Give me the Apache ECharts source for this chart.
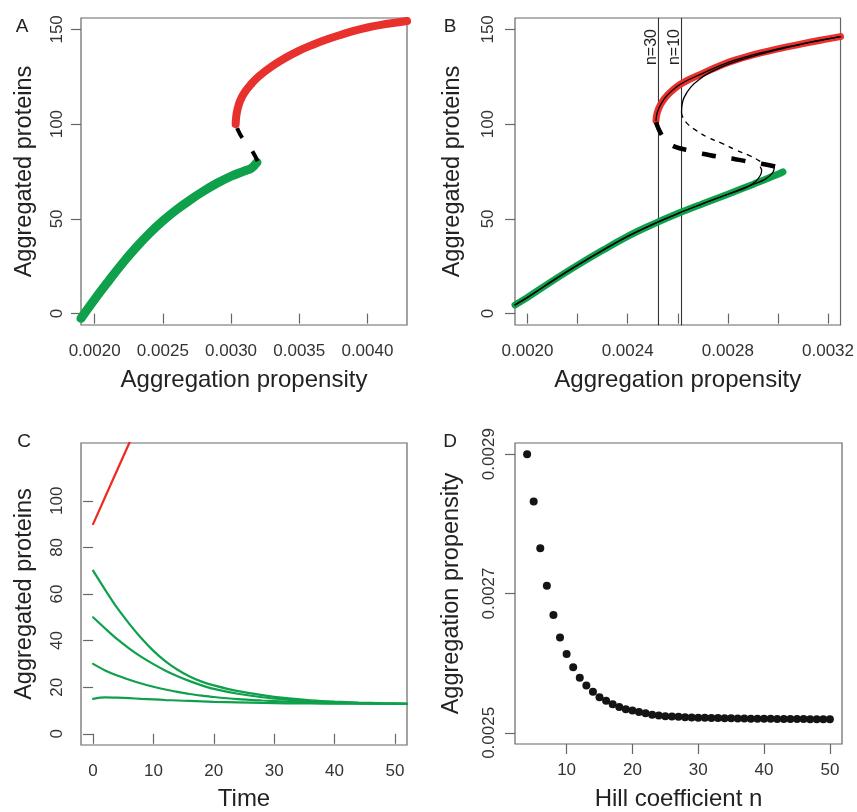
<!DOCTYPE html>
<html>
<head>
<meta charset="utf-8">
<script src="https://cdn.jsdelivr.net/npm/echarts@6/dist/echarts.min.js"></script>
<style>
  html, body { margin: 0; padding: 0; background: #fff; }
  #chart { width: 857px; height: 812px; }
</style>
</head>
<body>
<div id="chart"></div>
<script>
// ---- panel A: bifurcation diagram ----
const aGreenX = [0.0019, 0.0020, 0.0021, 0.0022, 0.0023, 0.0024, 0.0025, 0.0026, 0.0027, 0.0028, 0.0029, 0.0030, 0.0031, 0.00315, 0.00319];
const aGreenY = [-2.5, 7.5, 17, 26.2, 34.6, 42.2, 48.9, 54.8, 60, 64.7, 68.9, 72.5, 75.3, 76.8, 79.8];
const aRedX = [0.003034, 0.003038, 0.003048, 0.003068, 0.0031, 0.00315, 0.0032, 0.0033, 0.0034, 0.0035, 0.0036, 0.0037, 0.0038, 0.0039, 0.0040, 0.0041, 0.0042, 0.00429];
const aRedY = [100, 104, 108, 112.5, 116.8, 121.3, 125, 130.5, 135, 138.8, 141.9, 144.6, 147, 149.2, 151, 152.4, 153.5, 154.4];
const aUnstX = [0.003195, 0.00317, 0.00313, 0.00308, 0.00305, 0.003038];
const aUnstY = [80.5, 84, 88.5, 93, 97, 100];

// ---- panel B: n=30 (thick) and n=10 (thin) ----
const bGreenX = [0.00195, 0.0020, 0.0021, 0.0022, 0.0023, 0.0024, 0.0025, 0.0026, 0.0027, 0.0028, 0.0029, 0.0030, 0.00302];
const bGreenY = [4.6, 8.6, 17.3, 25.6, 33.4, 40.8, 47.1, 52.8, 58, 63, 68.2, 73.5, 74.8];
const bRedX = [0.002513, 0.002518, 0.002533, 0.00256, 0.002612, 0.0027, 0.002802, 0.0029, 0.0030, 0.0031, 0.0032, 0.00325];
const bRedY = [101.9, 106, 110.7, 115.5, 121.2, 126.8, 132.6, 136.5, 139.7, 142.5, 145, 146.2];
const bUnst30X = [0.002513, 0.002525, 0.00254, 0.00256, 0.00259, 0.00265, 0.0027, 0.00277, 0.00283, 0.00289, 0.00294, 0.002997];
const bUnst30Y = [101, 97, 93.5, 90.5, 88, 86, 84.4, 82.6, 81.5, 80, 79, 77.4];
const bUnst10X = [0.002615, 0.00262, 0.00264, 0.002673, 0.00272, 0.002779, 0.00283, 0.002885, 0.00293, 0.00295];
const bUnst10Y = [106, 103.7, 100, 96.7, 93, 89.7, 86.5, 83.5, 80.3, 78.3];
const bUp10X = [0.002615, 0.002617, 0.002625, 0.002652, 0.00269, 0.002731, 0.0028, 0.0029, 0.0030, 0.0031, 0.0032, 0.00325];
const bUp10Y = [106, 110, 114, 119.5, 124, 127.4, 131.5, 135.8, 139.3, 142.3, 145, 146.2];
const bLow10TailX = [0.00287, 0.00291, 0.00293, 0.002935, 0.00293];
const bLow10TailY = [66.3, 69.6, 73, 75.5, 77.3];
const bLow30TailX = [0.00295, 0.00298, 0.002985];
const bLow30TailY = [71, 74.5, 77];
const bThresh = [0.002523, 0.002615];
const bThreshNames = ['n=30', 'n=10'];

// ---- panel C: time courses ----
const cTime = [0, 2, 4, 6, 8, 10, 12, 14, 16, 18, 20, 24, 28, 32, 36, 40, 44, 48, 52];
const cFrom70 = [70, 61.8, 54, 47.2, 41, 35.6, 31.1, 27.5, 24.6, 22.4, 20.8, 18.3, 16.6, 15.3, 14.4, 13.8, 13.4, 13.1, 12.9];
const cFrom50 = [50, 45.2, 40.6, 36.6, 33, 29.9, 27.1, 24.7, 22.6, 20.8, 19.3, 17.2, 15.7, 14.7, 14, 13.5, 13.2, 13, 12.9];
const cFrom30 = [30, 27.2, 25, 23.2, 21.6, 20.2, 19, 18, 17.1, 16.4, 15.8, 14.9, 14.3, 13.8, 13.45, 13.2, 13.05, 12.95, 12.9];
const cFrom15 = [15, 15.6, 15.5, 15.3, 15, 14.8, 14.5, 14.3, 14.1, 13.9, 13.7, 13.45, 13.25, 13.1, 13, 12.95, 12.9, 12.9, 12.9];
const cRedTime = [0, 1, 2, 3, 4, 5, 6, 6.5];
const cRedY = [90, 95.8, 101.6, 107.4, 113.2, 119, 124.8, 127.7];

// ---- panel D: threshold vs Hill coefficient ----
const dN = [];
for (let n = 4; n <= 50; n++) dN.push(n);
const dProp = [0.0029, 0.002832, 0.002765, 0.002711, 0.002669, 0.002637, 0.002613, 0.002594, 0.002579, 0.002568,
  0.002559, 0.002551, 0.002546, 0.002541, 0.002537, 0.002534, 0.002532, 0.00253, 0.002528, 0.002526,
  0.002525, 0.002524, 0.0025235, 0.002523, 0.0025225, 0.002522, 0.0025218, 0.0025216, 0.0025214, 0.0025212,
  0.002521, 0.0025208, 0.0025206, 0.0025205, 0.0025204, 0.0025203, 0.0025202, 0.0025201, 0.00252, 0.00252,
  0.0025199, 0.0025198, 0.0025198, 0.0025197, 0.0025197, 0.0025196, 0.0025196];

const font = 'Liberation Sans, Arial, Helvetica, sans-serif';
const GREEN = '#0ea04b';
const RED = '#e8302d';
const AXIS = '#666';

const zip = (xs, ys) => xs.map((x, i) => [x, ys[i]]);

function xAxisCfg(i, min, max, ticks, labels, name, gap, digits) {
  return {
    type: 'value', gridIndex: i, min: min, max: max,
    axisLine: { show: false }, splitLine: { show: false },
    axisTick: { show: true, length: 10, lineStyle: { color: AXIS, width: 1.2 }, customValues: ticks },
    axisLabel: {
      customValues: labels, margin: 18, color: '#333', fontSize: 17, fontFamily: font,
      formatter: v => digits ? v.toFixed(digits) : String(Math.round(v))
    },
    name: name, nameLocation: 'middle', nameGap: gap,
    nameTextStyle: { fontSize: 24, color: '#222', fontFamily: font }
  };
}

function yAxisCfg(i, min, max, ticks, name, margin, gap, digits) {
  return {
    type: 'value', gridIndex: i, min: min, max: max,
    axisLine: { show: false }, splitLine: { show: false },
    axisTick: { show: true, length: 10, lineStyle: { color: AXIS, width: 1.2 }, customValues: ticks },
    axisLabel: {
      customValues: ticks, margin: margin, rotate: 90, color: '#333', fontSize: 17, fontFamily: font,
      formatter: v => digits ? v.toFixed(digits) : String(Math.round(v))
    },
    name: name, nameLocation: 'middle', nameGap: gap,
    nameTextStyle: { fontSize: 23.5, color: '#222', fontFamily: font }
  };
}

function line(i, data, color, width, type, z, smooth) {
  return {
    type: 'line', xAxisIndex: i, yAxisIndex: i, data: data,
    showSymbol: false, smooth: smooth === undefined ? 0.4 : smooth, silent: true, z: z || 2,
    lineStyle: { color: color, width: width, type: type || 'solid', cap: type ? 'butt' : 'round' }
  };
}

const chart = echarts.init(document.getElementById('chart'));

const gridStyle = { show: true, borderColor: AXIS, borderWidth: 1.2, backgroundColor: 'transparent' };
const letter = (t, x, y) => ({ type: 'text', x: x, y: y, style: { text: t, align: 'center', verticalAlign: 'middle', font: '19px ' + font, fill: '#222' } });

const option = {
  animation: false,
  grid: [
    Object.assign({ left: 81, top: 18, width: 326, height: 307 }, gridStyle),
    Object.assign({ left: 515, top: 18, width: 327, height: 307 }, gridStyle),
    Object.assign({ left: 81, top: 443, width: 326, height: 307 }, gridStyle),
    Object.assign({ left: 515, top: 443, width: 327, height: 307 }, gridStyle)
  ],
  xAxis: [
    xAxisCfg(0, 0.0019, 0.00429, [0.002, 0.0025, 0.003, 0.0035, 0.004], [0.002, 0.0025, 0.003, 0.0035, 0.004], 'Aggregation propensity', 43, 4),
    xAxisCfg(1, 0.00195, 0.00325, [0.002, 0.0022, 0.0024, 0.0026, 0.0028, 0.003, 0.0032], [0.002, 0.0024, 0.0028, 0.0032], 'Aggregation propensity', 43, 4),
    xAxisCfg(2, -2, 52, [0, 10, 20, 30, 40, 50], [0, 10, 20, 30, 40, 50], 'Time', 42, 0),
    xAxisCfg(3, 2.16, 51.84, [10, 20, 30, 40, 50], [10, 20, 30, 40, 50], 'Hill coefficient n', 43, 0)
  ],
  yAxis: [
    yAxisCfg(0, -6, 156, [0, 50, 100, 150], 'Aggregated proteins', 15, 44.5, 0),
    yAxisCfg(1, -6, 156, [0, 50, 100, 150], 'Aggregated proteins', 18.5, 50, 0),
    yAxisCfg(2, -4.8, 124.8, [0, 20, 40, 60, 80, 100], 'Aggregated proteins', 15.5, 44.5, 0),
    yAxisCfg(3, 0.002484, 0.002916, [0.0025, 0.0027, 0.0029], 'Aggregation propensity', 17, 51, 4)
  ],
  graphic: [letter('A', 22, 27), letter('B', 450, 27), letter('C', 24, 442), letter('D', 450, 442)],
  series: [
    // A
    line(0, zip(aGreenX, aGreenY), GREEN, 9),
    line(0, zip(aRedX, aRedY), RED, 8),
    line(0, zip(aUnstX, aUnstY), '#000', 4, [11, 17], 3),
    // B: threshold lines
    line(1, [[bThresh[0], -6], [bThresh[0], 156]], '#333', 1.1, null, 1, false),
    line(1, [[bThresh[1], -6], [bThresh[1], 156]], '#333', 1.1, null, 1, false),
    // B: curves
    line(1, zip(bGreenX, bGreenY), GREEN, 7),
    line(1, zip(bRedX, bRedY), RED, 7),
    line(1, zip(bUnst30X, bUnst30Y), '#000', 4.5, [14, 16], 3),
    line(1, zip(bUnst10X, bUnst10Y), '#000', 1.3, [5, 5], 4),
    line(1, zip(bRedX, bRedY), '#000', 1.3, null, 4),
    line(1, zip(bUp10X, bUp10Y), '#000', 1.3, null, 4),
    line(1, zip(bGreenX.slice(0, 11), bGreenY.slice(0, 11)).concat(zip(bLow30TailX, bLow30TailY)), '#000', 1.3, null, 4),
    line(1, zip(bGreenX.slice(0, 10), bGreenY.slice(0, 10)).concat(zip(bLow10TailX, bLow10TailY)), '#000', 1.3, null, 4),
    // C
    line(2, zip(cRedTime, cRedY), '#f0281f', 2.2, null, 2, false),
    line(2, zip(cTime, cFrom70), GREEN, 2.2, null, 2, 0.3),
    line(2, zip(cTime, cFrom50), GREEN, 2.2, null, 2, 0.3),
    line(2, zip(cTime, cFrom30), GREEN, 2.2, null, 2, 0.3),
    line(2, zip(cTime, cFrom15), GREEN, 2.2, null, 2, 0.3),
    // D
    {
      type: 'scatter', xAxisIndex: 3, yAxisIndex: 3, silent: true,
      data: zip(dN, dProp), symbolSize: 8, itemStyle: { color: '#141414', opacity: 1 }
    }
  ]
};

chart.setOption(option);

// n=30 / n=10 labels next to the threshold lines
const topPx = chart.convertToPixel({ gridIndex: 1 }, [bThresh[0], 156])[1];
chart.setOption({
  graphic: bThresh.map((v, i) => {
    const p = chart.convertToPixel({ gridIndex: 1 }, [v, 156]);
    return {
      type: 'text', x: p[0] + 1, y: topPx + 11, rotation: Math.PI / 2,
      style: { text: bThreshNames[i], align: 'right', verticalAlign: 'bottom', font: '16px ' + font, fill: '#222' }
    };
  }).concat([letter('A', 22, 27), letter('B', 450, 27), letter('C', 24, 442), letter('D', 450, 442)])
}, { replaceMerge: ['graphic'] });
</script>
</body>
</html>
